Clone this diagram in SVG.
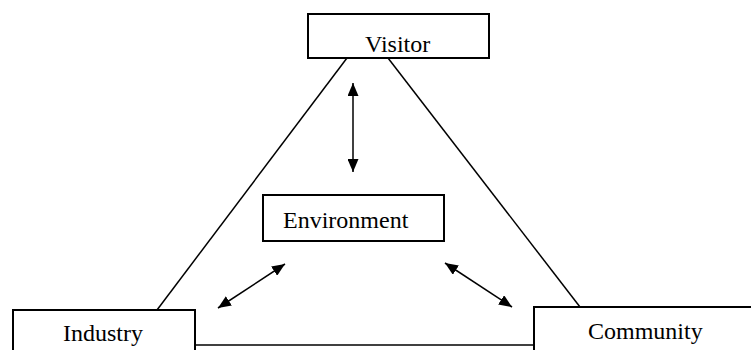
<svg xmlns="http://www.w3.org/2000/svg" width="751" height="350" viewBox="0 0 751 350">
  <style>
    .box { fill: #ffffff; stroke: #000000; stroke-width: 2; }
    .label { font-family: "Liberation Serif", "Times New Roman", serif; font-size: 24px; fill: #000000; }
    .edge { stroke: #000000; stroke-width: 1.5; fill: none; }
    .arrow { stroke: #000000; stroke-width: 1.5; fill: none; marker-start: url(#head); marker-end: url(#head); }
  </style>
  <defs>
    <marker id="head" viewBox="0 0 13 11" refX="13" refY="5.5" markerWidth="13" markerHeight="11" markerUnits="userSpaceOnUse" orient="auto-start-reverse">
      <path d="M0,0 L13,5.5 L0,11 Z" fill="#000000"/>
    </marker>
  </defs>
  <rect width="751" height="350" fill="#ffffff"/>

  <!-- triangle sides and two-way links -->
  <g id="connectors">
    <line class="edge" x1="347" y1="58" x2="157" y2="310"/>
    <line class="edge" x1="388" y1="58" x2="580" y2="307"/>
    <line class="edge" x1="195" y1="345" x2="534" y2="345"/>
    <line class="arrow" x1="353" y1="83" x2="353" y2="172"/>
    <line class="arrow" x1="285" y1="264" x2="218" y2="308"/>
    <line class="arrow" x1="445" y1="263" x2="512" y2="307"/>
  </g>

  <g id="visitor">
    <rect class="box" x="308" y="14" width="181" height="44"/>
    <text class="label" x="365" y="52">Visitor</text>
  </g>

  <g id="environment">
    <rect class="box" x="263" y="195" width="181" height="46"/>
    <text class="label" x="283" y="228">Environment</text>
  </g>

  <g id="industry">
    <rect class="box" x="13" y="310" width="182" height="50"/>
    <text class="label" x="63" y="341">Industry</text>
  </g>

  <g id="community">
    <rect class="box" x="534" y="307" width="230" height="60"/>
    <text class="label" x="588" y="339">Community</text>
  </g>
</svg>
